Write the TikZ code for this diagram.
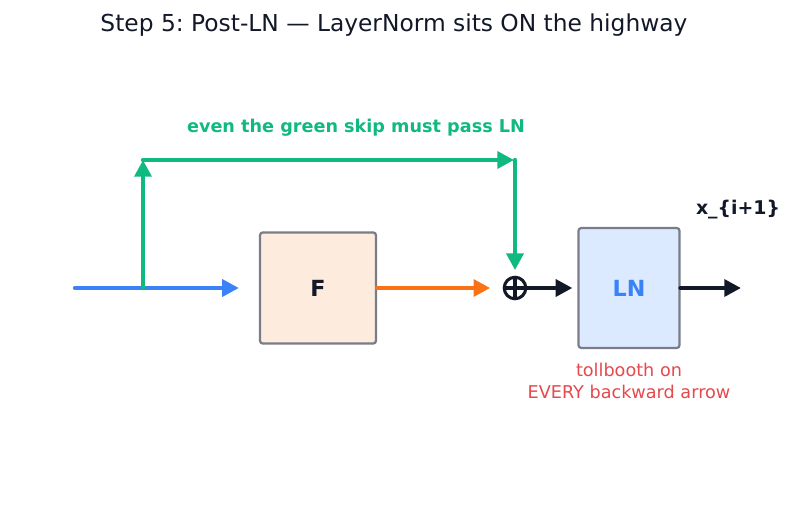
\documentclass[tikz,border=0pt]{standalone}
\usepackage{fontspec}
\setmainfont{DejaVu Sans}
\usetikzlibrary{arrows.meta}
\frenchspacing
\definecolor{cgreen}{HTML}{10B981}
\definecolor{cblue}{HTML}{3B82F6}
\definecolor{corange}{HTML}{F97316}
\definecolor{cdark}{HTML}{111827}
\definecolor{cred}{HTML}{E5484D}
\definecolor{cborder}{HTML}{7A7D88}
\definecolor{ffill}{HTML}{FDEBDD}
\definecolor{lnfill}{HTML}{DBEAFE}
\tikzset{
  conn/.style={line width=3.2pt, line cap=round, -{Triangle[length=12pt,width=12pt]}},
  blockbox/.style={draw=cborder, line width=1.6pt, rounded corners=2pt, font=\fontsize{16}{18}\selectfont\bfseries},
}
\begin{document}
\begin{tikzpicture}[x=0.72pt,y=-0.72pt]
\frenchspacing
\useasboundingbox (0,0) rectangle (796,510);
\node[text=cdark, font=\fontsize{16.8}{19}\selectfont] (title) at (394,25) {Step 5: Post-LN — LayerNorm sits ON the highway};
\node[text=cgreen, font=\fontsize{12.7}{14}\selectfont\bfseries] (glabel) at (356,128) {even the green skip must pass LN};

\node[blockbox, fill=ffill, text=cdark, minimum width=83.5pt, minimum height=80pt] (F) at (318,288) {F};
\node[blockbox, fill=lnfill, text=cblue, minimum width=72.7pt, minimum height=86.4pt] (LN) at (629,288) {LN};
\node[circle, draw=cdark, line width=2.2pt, minimum size=15.5pt, inner sep=0pt] (sum) at (515,288) {};
\draw[cdark, line width=2.2pt] (sum.north) -- (sum.south) (sum.west) -- (sum.east);

\coordinate (in) at (75,288);
\coordinate (br) at (143,288);
\coordinate (tl) at (143,160);
\coordinate (tr) at (515,160);
\coordinate (out) at (741,288);

\draw[conn, cblue, shorten >=14.4pt] (in) -- (F.west);
\draw[conn, cgreen] (br) -- (tl);
\draw[conn, cgreen, shorten >=0.7pt] (tl) -- (tr);
\draw[conn, cgreen, shorten >=4pt] (tr) -- (sum.north);
\draw[conn, corange, shorten >=9pt] (F.east) -- (sum.west);
\draw[conn, cdark, shorten >=3.6pt] (sum.east) -- (LN.west);
\draw[conn, cdark] (LN.east) -- (out);

\node[text=cdark, font=\fontsize{13.6}{15}\selectfont\bfseries] (xlabel) at (738,210) {x\_\{i+1\}};
\node[text=cred, font=\fontsize{12.7}{15.5}\selectfont, align=center] (toll) at (629,381) {tollbooth on\\EVERY backward arrow};
\end{tikzpicture}
\end{document}
